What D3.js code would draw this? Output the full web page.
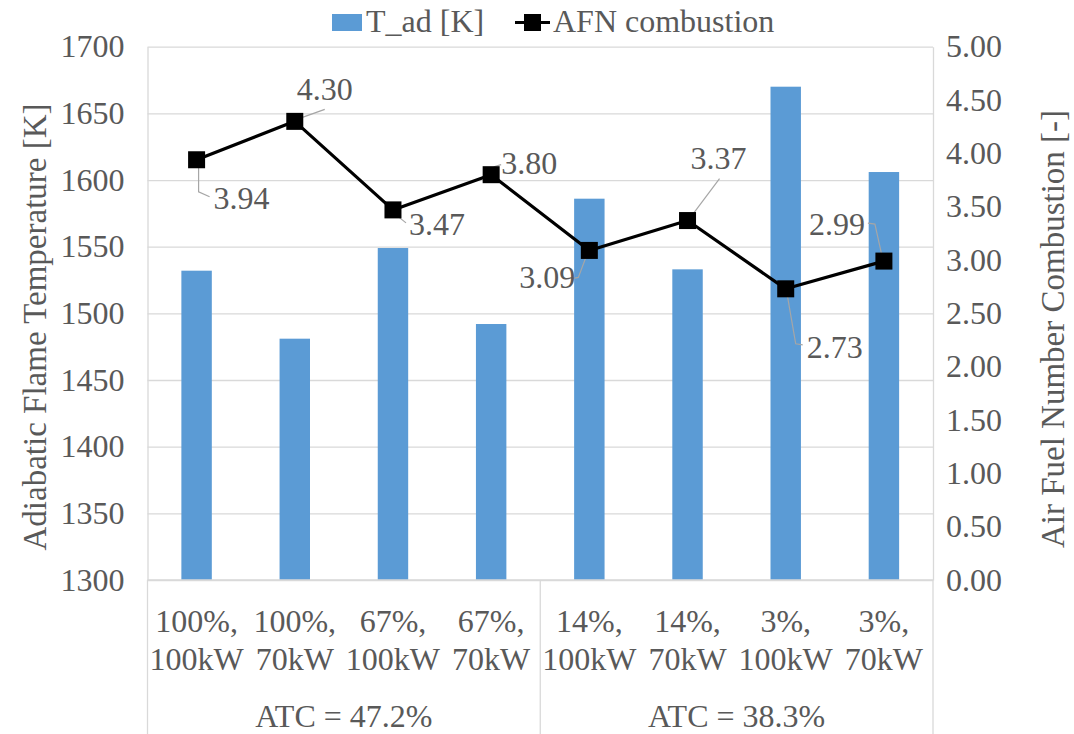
<!DOCTYPE html>
<html>
<head>
<meta charset="utf-8">
<script src="https://cdn.jsdelivr.net/npm/d3@7"></script>
</head>
<body style="margin:0;padding:0;background:#fff">
<svg id="chart" width="1074" height="734" font-family="Liberation Serif" style="display:block"></svg>
<script>
// Operating points (oxygen share, thermal load)
const categories = ["100%,|100kW", "100%,|70kW", "67%,|100kW", "67%,|70kW",
                    "14%,|100kW", "14%,|70kW", "3%,|100kW", "3%,|70kW"];
// Category groups along the lower axis level
const groupLabels = ["ATC = 47.2%", "ATC = 38.3%"];
const groupSizes = [4, 4];
// Adiabatic flame temperature [K]
const tAd = [1532, 1481, 1549, 1492, 1586, 1533, 1670, 1606];
// Air fuel number of combustion [-]
const afn = [3.94, 4.30, 3.47, 3.80, 3.09, 3.37, 2.73, 2.99];
// Axis ticks
const leftTicks = [1300, 1350, 1400, 1450, 1500, 1550, 1600, 1650, 1700];
const rightTicks = [0, 0.5, 1, 1.5, 2, 2.5, 3, 3.5, 4, 4.5, 5];

// Data-label placement relative to each marker: text offset, anchor, leader path
const labelPlacement = [
  { dx: 17, dy: 49, anchor: "start", leader: [[2, 8], [2, 32], [13, 37]] },
  { dx: 2, dy: -21, anchor: "start", leader: [[2, -2], [30, -12]] },
  { dx: 16, dy: 25, anchor: "start", leader: [[3, 5], [13, 13]] },
  { dx: 10, dy: -1, anchor: "start", leader: [[-1, 2], [3, -8], [10, -10]] },
  { dx: -14, dy: 38, anchor: "end", leader: [[-2, 3], [-11, 27], [-16, 28]] },
  { dx: 3, dy: -52, anchor: "start", leader: [[2, -2], [32, -42]] },
  { dx: 21, dy: 69, anchor: "start", leader: [[1, 3], [10, 55], [17, 56]] },
  { dx: -19, dy: -26, anchor: "end", leader: [[-1, -1], [-9, -37], [-16, -38]] }
];

const W = 1074, H = 734;
const plot = { left: 147.5, right: 933, top: 46.7, bottom: 580 };
const FS = 32;
const FS_TITLE = 33;
const FONT = "Liberation Serif";
const TXT = "#595959";
const GRID = "#d9d9d9";
const svg = d3.select("#chart");

const x = d3.scaleBand()
  .domain(categories)
  .range([plot.left, plot.right])
  .paddingInner(0.69)
  .paddingOuter(0.345);
const yL = d3.scaleLinear().domain([1300, 1700]).range([plot.bottom, plot.top]);
const yR = d3.scaleLinear().domain([0, 5]).range([plot.bottom, plot.top]);
const cx = c => x(c) + x.bandwidth() / 2;

// Horizontal gridlines
const grid = svg.append("g")
  .attr("transform", `translate(${plot.left},0)`)
  .call(d3.axisLeft(yL).tickValues(leftTicks).tickSize(-(plot.right - plot.left)).tickFormat(""));
grid.select(".domain").remove();
grid.selectAll("text").remove();
grid.selectAll("line").attr("stroke", GRID).attr("stroke-width", 1.3);

// Left axis labels
const axL = svg.append("g")
  .attr("transform", `translate(${plot.left},0)`)
  .call(d3.axisLeft(yL).tickValues(leftTicks).tickSize(0).tickPadding(23).tickFormat(d3.format("d")));
axL.select(".domain").attr("stroke", GRID).attr("stroke-width", 1.3);

// Right axis labels
const axR = svg.append("g")
  .attr("transform", `translate(${plot.right},0)`)
  .call(d3.axisRight(yR).tickValues(rightTicks).tickSize(0).tickPadding(13).tickFormat(d3.format(".2f")));
axR.select(".domain").attr("stroke", GRID).attr("stroke-width", 1.3);
[axL, axR].forEach(g => g.attr("font-family", FONT).attr("font-size", FS));

// Bars
svg.append("g").selectAll("rect")
  .data(categories)
  .join("rect")
  .attr("x", d => x(d))
  .attr("width", x.bandwidth())
  .attr("y", (d, i) => yL(tAd[i]))
  .attr("height", (d, i) => plot.bottom - yL(tAd[i]))
  .attr("fill", "#5b9bd5");

// Category axis baseline and group separators
svg.append("line")
  .attr("x1", plot.left).attr("x2", plot.right)
  .attr("y1", plot.bottom).attr("y2", plot.bottom)
  .attr("stroke", GRID).attr("stroke-width", 1.3);
const sepIdx = [0];
groupSizes.reduce((acc, n) => { sepIdx.push(acc + n); return acc + n; }, 0);
const step = x.step();
const sepX = i => plot.left + i * step;
svg.append("g").selectAll("line")
  .data(sepIdx)
  .join("line")
  .attr("x1", d => sepX(d)).attr("x2", d => sepX(d))
  .attr("y1", plot.bottom).attr("y2", H)
  .attr("stroke", GRID).attr("stroke-width", 1.3);

// Category labels (two lines each)
const catG = svg.append("g");
categories.forEach(c => {
  c.split("|").forEach((part, k) => {
    catG.append("text")
      .attr("x", cx(c)).attr("y", 632 + k * 38)
      .attr("text-anchor", "middle")
      .text(part);
  });
});

// Group labels
groupLabels.forEach((g, i) => {
  const a = sepX(sepIdx[i]), b = sepX(sepIdx[i + 1]);
  svg.append("text")
    .attr("x", (a + b) / 2).attr("y", 727)
    .attr("text-anchor", "middle")
    .text(g);
});

// AFN line
const line = d3.line().x((d, i) => cx(categories[i])).y(d => yR(d));
svg.append("path")
  .datum(afn)
  .attr("d", line)
  .attr("fill", "none")
  .attr("stroke", "#000")
  .attr("stroke-width", 3.2)
  .attr("stroke-linejoin", "round");

// Leader lines
svg.append("g").selectAll("path")
  .data(afn)
  .join("path")
  .attr("d", (d, i) => {
    const px = cx(categories[i]), py = yR(d);
    return d3.line()(labelPlacement[i].leader.map(p => [px + p[0], py + p[1]]));
  })
  .attr("fill", "none")
  .attr("stroke", "#a6a6a6")
  .attr("stroke-width", 1.2);

// Markers
const MS = 17;
svg.append("g").selectAll("rect")
  .data(afn)
  .join("rect")
  .attr("x", (d, i) => cx(categories[i]) - MS / 2)
  .attr("y", d => yR(d) - MS / 2)
  .attr("width", MS).attr("height", MS)
  .attr("fill", "#000");

// Data labels
svg.append("g").selectAll("text")
  .data(afn)
  .join("text")
  .attr("x", (d, i) => cx(categories[i]) + labelPlacement[i].dx)
  .attr("y", (d, i) => yR(d) + labelPlacement[i].dy)
  .attr("text-anchor", (d, i) => labelPlacement[i].anchor)
  .text(d => d3.format(".2f")(d));

// Legend
const lg = svg.append("g");
lg.append("rect").attr("x", 332).attr("y", 14).attr("width", 30).attr("height", 17).attr("fill", "#5b9bd5");
lg.append("text").attr("x", 366).attr("y", 32).text("T_ad [K]");
lg.append("line").attr("x1", 515).attr("x2", 550).attr("y1", 22.5).attr("y2", 22.5)
  .attr("stroke", "#000").attr("stroke-width", 3.2);
lg.append("rect").attr("x", 524).attr("y", 14).attr("width", 17).attr("height", 17).attr("fill", "#000");
lg.append("text").attr("x", 553).attr("y", 32).text("AFN combustion");

// Shared typography for every label
svg.selectAll("text")
  .attr("font-family", FONT)
  .attr("font-size", FS)
  .attr("fill", TXT);

// Axis titles
svg.append("text")
  .attr("transform", `translate(46,327) rotate(-90)`)
  .attr("text-anchor", "middle")
  .attr("font-family", FONT).attr("font-size", FS_TITLE).attr("fill", TXT)
  .text("Adiabatic Flame Temperature [K]");
svg.append("text")
  .attr("transform", `translate(1064,329) rotate(-90)`)
  .attr("text-anchor", "middle")
  .attr("font-family", FONT).attr("font-size", FS_TITLE).attr("fill", TXT)
  .text("Air Fuel Number Combustion [-]");
</script>
</body>
</html>
